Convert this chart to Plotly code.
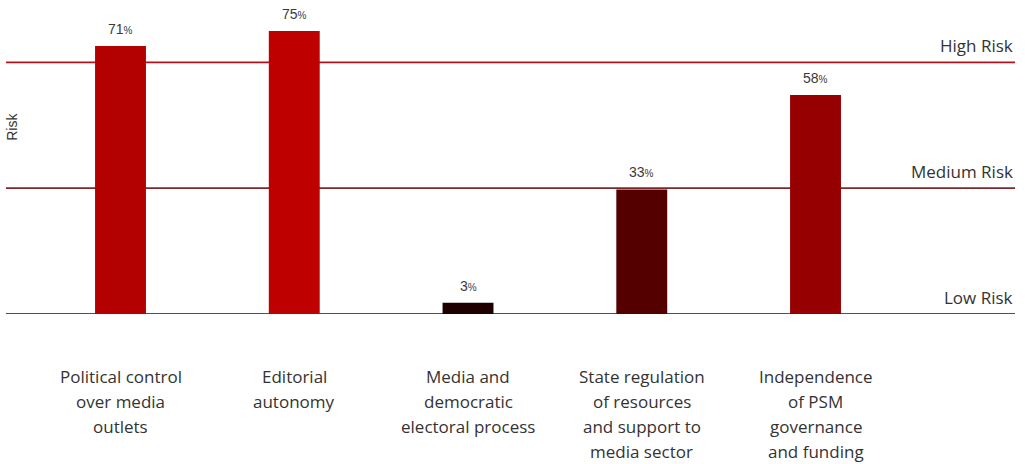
import plotly.graph_objects as go

categories = [
    "Political control<br>over media<br>outlets",
    "Editorial<br>autonomy",
    "Media and<br>democratic<br>electoral process",
    "State regulation<br>of resources<br>and support to<br>media sector",
    "Independence<br>of PSM<br>governance<br>and funding",
]
values = [71, 75, 3, 33, 58]
bar_colors = ["#b30000", "#bf0000", "#1f0000", "#550000", "#960000"]
risk_levels = ["Low Risk", "Medium Risk", "High Risk"]
risk_values = [0, 100 / 3, 200 / 3]
risk_colors = ["#3a0a0a", "#7a2a2a", "#b3141c"]

FONT = "Open Sans, Inter, Arial, sans-serif"
TXT = "#333333"

xs = list(range(len(categories)))
fig = go.Figure()
fig.add_trace(go.Bar(
    x=xs, y=values, width=0.293,
    marker=dict(color=bar_colors, line=dict(width=0)),
    hoverinfo="skip",
))

shapes = []
annotations = []
for lvl, v, c in zip(risk_levels, risk_values, risk_colors):
    shapes.append(dict(type="line", xref="paper", yref="y", x0=0, x1=1, y0=v, y1=v,
                       line=dict(color=c, width=1.6), layer="below"))
    annotations.append(dict(text=lvl, xref="paper", yref="y", x=1, y=v,
                            xanchor="right", yanchor="bottom", yshift=3, showarrow=False,
                            font=dict(family=FONT, size=17, color=TXT)))

for i, v in enumerate(values):
    annotations.append(dict(text=f"{v}<span style='font-size:10px'>%</span>", x=i, y=v,
                            xref="x", yref="y", xanchor="center", yanchor="bottom",
                            yshift=7, showarrow=False,
                            font=dict(family="Liberation Sans, Arial, sans-serif", size=14, color="#3a3a3a")))

for i, cat in enumerate(categories):
    for j, line in enumerate(cat.split("<br>")):
        annotations.append(dict(text=line, x=i, y=0, xref="x", yref="y",
                                xanchor="center", yanchor="middle", yshift=-62 - 25 * j,
                                showarrow=False,
                                font=dict(family=FONT, size=17, color=TXT)))

annotations.append(dict(text="Risk", xref="paper", yref="paper", x=0, y=0.62,
                        xanchor="center", yanchor="middle", xshift=6, textangle=-90,
                        showarrow=False,
                        font=dict(family="Liberation Sans, Arial, sans-serif", size=14, color=TXT)))

fig.update_layout(
    width=1025, height=464,
    margin=dict(l=6, r=10, t=12, b=150),
    paper_bgcolor="white", plot_bgcolor="white",
    showlegend=False,
    xaxis=dict(range=[-0.659, 5.148], showgrid=False, zeroline=False,
               showticklabels=False, ticks="", showline=False),
    yaxis=dict(range=[0, 80], showgrid=False, zeroline=False,
               showticklabels=False, ticks="", showline=False),
    shapes=shapes, annotations=annotations,
)
fig.write_html("out.html", config={"displayModeBar": False},
               post_script="document.body.style.margin='0';")
